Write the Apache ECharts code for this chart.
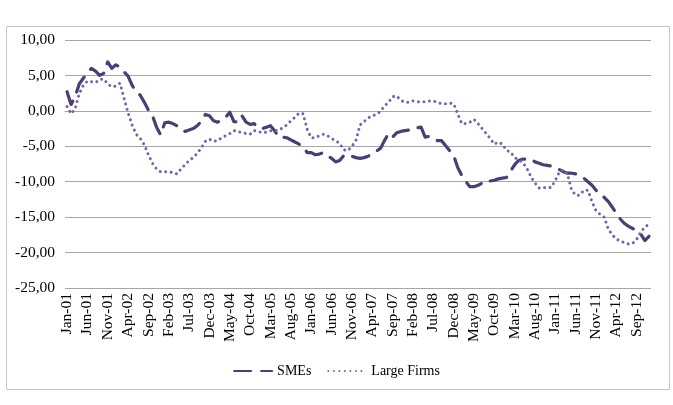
<!DOCTYPE html>
<html><head><meta charset="utf-8">
<script src="https://cdn.jsdelivr.net/npm/echarts@6/dist/echarts.min.js"></script>
<style>html,body{margin:0;padding:0;background:#fff}#c{width:673px;height:405px}</style>
</head><body><div id="c"></div>
<script>
const monthNames = ["Jan","Feb","Mar","Apr","May","Jun","Jul","Aug","Sep","Oct","Nov","Dec"];
const years = ["01","02","03","04","05","06","07","08","09","10","11","12"];
const categories = [];
years.forEach(y => monthNames.forEach(m => categories.push(m + "-" + y)));

const smes = [
 2.7,0.9,2.0,3.8,4.6,5.4,6.0,5.6,5.0,5.3,6.9,6.0,
 6.5,6.2,5.5,4.9,3.6,2.7,2.2,1.2,0.1,-0.7,-2.3,-3.4,
 -1.7,-1.6,-1.8,-2.1,-2.6,-2.9,-2.7,-2.5,-2.1,-1.5,-0.5,-0.7,
 -1.4,-1.6,-1.3,-0.9,-0.2,-1.5,-1.6,-0.7,-1.6,-1.9,-1.8,-2.4,
 -2.5,-2.3,-2.1,-2.8,-3.7,-3.7,-3.8,-4.1,-4.4,-4.7,-5.0,-5.9,
 -5.9,-6.2,-6.1,-5.9,-6.3,-6.7,-7.2,-7.0,-6.3,-6.2,-6.4,-6.6,
 -6.7,-6.6,-6.4,-6.0,-5.7,-5.3,-4.2,-3.2,-3.7,-3.1,-2.9,-2.8,
 -2.7,-2.5,-2.4,-2.3,-3.7,-3.6,-3.8,-4.2,-4.2,-4.9,-5.6,-6.3,
 -8.0,-9.1,-10.0,-10.7,-10.7,-10.5,-10.2,-9.8,-9.9,-9.8,-9.6,-9.5,
 -9.4,-8.5,-7.6,-7.0,-6.8,-6.8,-6.8,-7.2,-7.4,-7.6,-7.7,-7.8,
 -8.0,-8.3,-8.6,-8.8,-8.8,-8.9,-9.1,-9.5,-10.0,-10.5,-11.2,-11.8,
 -12.2,-12.8,-13.6,-14.5,-15.3,-15.9,-16.3,-16.6,-16.9,-17.4,-18.3,-17.7
];
const largeFirms = [
 0.6,-0.4,0.3,2.4,3.6,4.2,4.1,4.0,4.4,4.5,3.8,3.4,
 3.5,3.9,1.8,-0.3,-2.0,-3.3,-3.9,-4.8,-6.2,-7.4,-8.2,-8.6,
 -8.6,-8.6,-8.7,-8.9,-8.2,-7.6,-7.0,-6.6,-6.0,-5.2,-4.3,-4.0,
 -4.3,-4.2,-3.8,-3.5,-3.2,-2.8,-2.9,-3.1,-3.2,-3.3,-2.8,-2.9,
 -3.1,-3.0,-2.8,-2.8,-2.7,-2.4,-2.0,-1.4,-0.9,-0.3,-0.4,-2.6,
 -3.8,-3.8,-3.5,-3.3,-3.5,-3.9,-4.2,-4.6,-5.5,-5.6,-5.0,-4.2,
 -2.0,-1.5,-1.0,-0.7,-0.5,-0.1,0.7,1.2,2.0,2.1,1.5,1.2,
 1.2,1.4,1.3,1.3,1.3,1.4,1.4,1.2,1.0,1.0,1.1,1.0,
 -0.4,-1.8,-1.8,-1.6,-1.2,-1.8,-2.5,-3.2,-3.9,-4.7,-4.4,-4.7,
 -5.6,-5.8,-6.6,-6.9,-7.3,-8.1,-9.3,-10.2,-10.9,-10.8,-10.9,-10.8,
 -9.8,-8.6,-8.3,-9.0,-11.2,-11.9,-11.9,-11.2,-11.2,-12.8,-14.1,-14.6,
 -15.0,-16.7,-17.5,-18.1,-18.4,-18.6,-18.8,-18.7,-18.1,-17.1,-16.4,-16.0
];
const yTicks = {min: -25, max: 10, interval: 5};

const font = "'Liberation Serif','Times New Roman',serif";
const chart = echarts.init(document.getElementById('c'), null, {renderer: 'canvas'});
chart.setOption({
  animation: false,
  backgroundColor: '#fff',
  graphic: [{
    type: 'rect', left: 4, top: 24, shape: {x: 0, y: 0, width: 663, height: 363},
    style: {fill: 'none', stroke: '#c6c6c6', lineWidth: 1}, silent: true
  }],
  grid: {left: 65, right: 22, top: 40, bottom: 117, containLabel: false},
  legend: {
    top: 359, left: 'center', itemGap: 16, itemWidth: 38, itemHeight: 14,
    itemStyle: {opacity: 0},
    textStyle: {fontFamily: font, fontSize: 14, color: '#000'},
    data: ['SMEs', 'Large Firms']
  },
  xAxis: {
    type: 'category', data: categories, boundaryGap: true,
    axisLine: {show: true, lineStyle: {color: '#a6a6a6'}},
    axisTick: {show: false},
    axisLabel: {interval: 4, rotate: 90, fontFamily: font, fontSize: 15.5, color: '#000', margin: 5}
  },
  yAxis: {
    type: 'value', min: yTicks.min, max: yTicks.max, interval: yTicks.interval,
    axisLine: {show: false}, axisTick: {show: false},
    splitLine: {lineStyle: {color: '#a6a6a6', width: 1}},
    axisLabel: {fontFamily: font, fontSize: 15.5, color: '#000', margin: 10,
      formatter: v => v.toFixed(2).replace('.', ',')}
  },
  series: [
    {name: 'SMEs', type: 'line', data: smes, symbol: 'none', smooth: false,
     itemStyle: {color: '#4d3d72'},
     lineStyle: {color: '#4d3d72', width: 3.2, type: [17, 10], cap: 'round', join: 'round'}},
    {name: 'Large Firms', type: 'line', data: largeFirms, symbol: 'none', smooth: false,
     itemStyle: {color: '#7664a6'},
     lineStyle: {color: '#7664a6', width: 3, type: [0.01, 5.5], cap: 'round', join: 'round'}}
  ]
});
</script></body></html>
